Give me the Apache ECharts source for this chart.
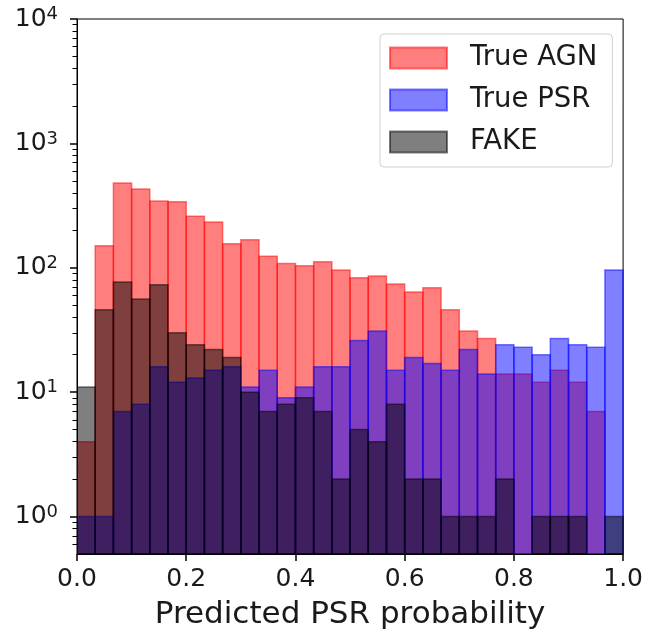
<!DOCTYPE html>
<html>
<head>
<meta charset="utf-8">
<script src="https://cdn.jsdelivr.net/npm/echarts@6/dist/echarts.min.js"></script>
<style>
html,body{margin:0;padding:0;background:#fff;}
#chart{width:646px;height:635px;}
</style>
</head>
<body>
<div id="chart"></div>
<script>
// ---- data (histogram counts per bin, 30 bins on [0,1]) ----
const binCount = 30;
const xMin = 0;
const xMax = 1;
const seriesNames = ['True AGN', 'True PSR', 'FAKE'];
const agnCounts  = [4, 150, 480, 430, 345, 340, 260, 233, 156, 168, 124, 108, 104, 112, 96, 83, 86, 74, 64, 69, 46, 31, 27, 14, 14, 12, 15, 12, 7, 0];
const psrCounts  = [1, 1, 7, 8, 16, 12, 13, 15, 16, 11, 15, 9, 11, 16, 16, 26, 31, 15, 19, 17, 15, 22, 14, 24, 23, 20, 27, 24, 23, 96];
const fakeCounts = [11, 46, 77, 56, 73, 30, 24, 22, 19, 10, 7, 8, 9, 7, 2, 5, 4, 8, 2, 2, 1, 1, 1, 2, 0, 1, 1, 1, 0, 1];
const yMajorTicks = [1, 10, 100, 1000, 10000];
const yMinorTicks = [0.6, 0.7, 0.8, 0.9, 2, 3, 4, 5, 6, 7, 8, 9, 20, 30, 40, 50, 60, 70, 80, 90,
                     200, 300, 400, 500, 600, 700, 800, 900, 2000, 3000, 4000, 5000, 6000, 7000, 8000, 9000];
const yMin = 0.5;
const yMax = 10000;

const fills   = ['rgba(255,0,0,0.5)', 'rgba(0,0,255,0.5)', 'rgba(0,0,0,0.5)'];
const strokes = ['rgba(255,0,0,0.5)', 'rgba(0,0,255,0.5)', 'rgba(0,0,0,0.5)'];

function toBins(counts) {
  const w = (xMax - xMin) / binCount;
  return counts.map((c, i) => [xMin + i * w, xMin + (i + 1) * w, c]);
}

function makeRender(k) {
  return function (params, api) {
    const v = api.value(2);
    if (!(v > 0)) return null;
    const tl = api.coord([api.value(0), v]);
    const br = api.coord([api.value(1), yMin]);
    return {
      type: 'rect',
      shape: { x: tl[0], y: tl[1], width: br[0] - tl[0], height: br[1] - tl[1] },
      style: { fill: fills[k], stroke: strokes[k], lineWidth: 1.5 }
    };
  };
}

const allCounts = [agnCounts, psrCounts, fakeCounts];
const font = 'DejaVu Sans';

const chart = echarts.init(document.getElementById('chart'), null, { renderer: 'canvas' });
chart.setOption({
  animation: false,
  backgroundColor: '#fff',
  textStyle: { fontFamily: font },
  grid: { left: 77, right: 21, top: 19, bottom: 79, show: true, borderColor: '#000', borderWidth: 1, backgroundColor: 'transparent' },
  legend: {
    orient: 'vertical',
    left: 380, top: 34,
    icon: 'rect',
    itemWidth: 57, itemHeight: 21, itemGap: 14,
    padding: [10, 15, 11, 9],
    backgroundColor: '#fff',
    borderColor: '#d0d0d0', borderWidth: 1, borderRadius: 4,
    textStyle: { fontFamily: font, fontSize: 27.5, color: '#1a1a1a', padding: [0, 0, 0, 18] },
    data: seriesNames
  },
  xAxis: {
    type: 'value', min: xMin, max: xMax, interval: 0.2,
    name: 'Predicted PSR probability', nameLocation: 'middle', nameGap: 45,
    nameTextStyle: { fontFamily: font, fontSize: 31, color: '#1a1a1a' },
    axisLine: { show: true, lineStyle: { color: '#000', width: 1 } },
    axisTick: { show: true, length: 7, lineStyle: { color: '#000', width: 1.5 } },
    axisLabel: { fontFamily: font, fontSize: 25, color: '#1a1a1a', margin: 13, formatter: v => v.toFixed(1) },
    splitLine: { show: false }
  },
  yAxis: [
    {
      type: 'log', logBase: 10, min: yMin, max: yMax, position: 'left', offset: 0,
      axisLine: { show: true, lineStyle: { color: '#000', width: 1 } },
      axisTick: { show: true, length: 7, customValues: yMajorTicks, lineStyle: { color: '#000', width: 1.5 } },
      axisLabel: {
        customValues: yMajorTicks, margin: 19, color: '#1a1a1a',
        formatter: v => '{b|10}{s|' + Math.round(Math.log10(v)) + '}',
        rich: {
          b: { fontFamily: font, fontSize: 25, color: '#1a1a1a', lineHeight: 27 },
          s: { fontFamily: font, fontSize: 18, color: '#1a1a1a', verticalAlign: 'top', lineHeight: 18 }
        }
      },
      splitLine: { show: false },
      minorTick: { show: false }
    },
    {
      type: 'log', logBase: 10, min: yMin, max: yMax, position: 'left', offset: 0,
      axisLine: { show: false },
      axisTick: { show: true, length: 4.5, customValues: yMinorTicks, lineStyle: { color: '#000', width: 1 } },
      axisLabel: { show: false },
      splitLine: { show: false }
    }
  ],
  series: allCounts.map((counts, k) => ({
    type: 'custom',
    name: seriesNames[k],
    xAxisIndex: 0, yAxisIndex: 0,
    renderItem: makeRender(k),
    encode: { x: [0, 1], y: 2 },
    itemStyle: { color: fills[k], borderColor: strokes[k], borderWidth: 1.5 },
    clip: true,
    data: toBins(counts)
  }))
});
</script>
</body>
</html>
